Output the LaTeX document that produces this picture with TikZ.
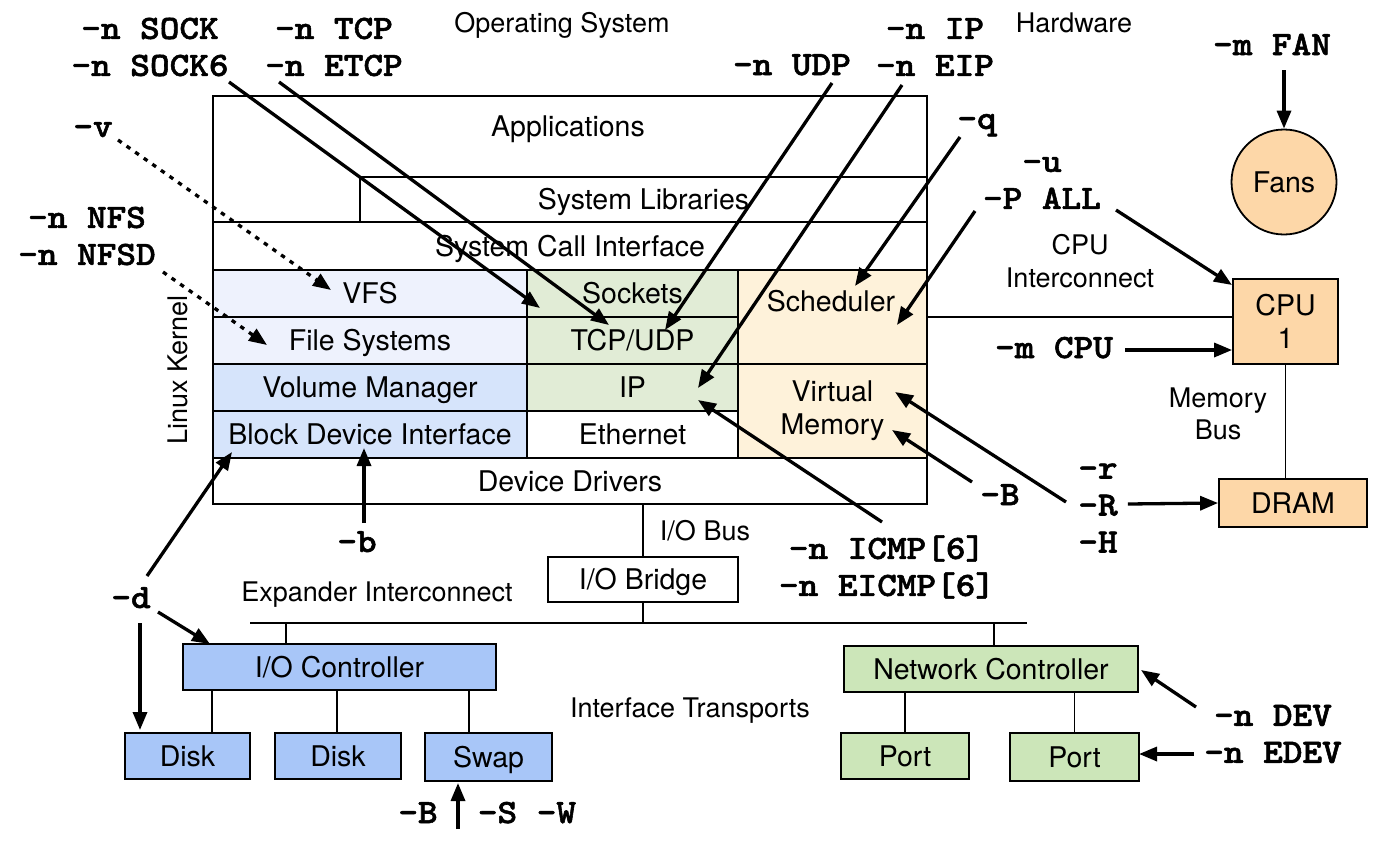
\documentclass[tikz,border=0pt]{standalone}
\usepackage{fontspec}
\setmainfont{TeX Gyre Heros}
\newfontfamily\codefont[Extension=.otf, FakeStretch=1.1, FakeBold=1.6]{lmmonolt10-bold}
\usepackage{xcolor}
\usetikzlibrary{arrows.meta, positioning}

\definecolor{fsblue}{HTML}{EEF2FD}
\definecolor{blkblue}{HTML}{D6E4FB}
\definecolor{netgreen}{HTML}{E1ECD6}
\definecolor{cpupeach}{HTML}{FEF2DA}
\definecolor{iofill}{HTML}{A8C6F8}
\definecolor{nicfill}{HTML}{CCE6B9}
\definecolor{hwfill}{HTML}{FDD7A8}

\begin{document}
\begin{tikzpicture}[x=1pt, y=-1pt,
    box/.style={draw, line width=1.8pt, inner sep=0pt, align=center,
                font=\fontsize{28.5}{33}\selectfont},
    one/.style={text height=20.5pt, text depth=0pt},
    lbl/.style={inner sep=0pt, align=center, font=\fontsize{27}{32.5}\selectfont},
    opt/.style={inner sep=0pt, align=center,
                font={\codefont\fontsize{34}{37}\selectfont}},
    wire/.style={line width=1.4pt},
    probe/.style={line width=3.3pt, -{Triangle[length=18pt, width=14pt]}},
    dotprobe/.style={probe, dash pattern=on 4.5pt off 6pt}]

    % --- CANVAS ---
    \path[fill=white, use as bounding box] (0,0) rectangle (1395,855);

    % --- HEADINGS ---
    \node[lbl, text height=19.5pt, text depth=0pt] (ostitle) at (562,23) {Operating System};
    \node[lbl, text height=19.5pt, text depth=0pt] (hwtitle) at (1074,23) {Hardware};
    \node[lbl, text height=19.5pt, text depth=0pt, rotate=90] (kernel) at (178,370) {Linux Kernel};

    % --- OPERATING SYSTEM STACK ---
    \node[box, minimum width=714pt, minimum height=408pt] (os) at (570,300) {};
    \node[box, one, draw=none] (apps) at (568,126) {Applications};
    \node[box, one, minimum width=567pt, minimum height=45pt] (syslib) at (643.5,199.5) {System Libraries};
    \node[box, one, minimum width=714pt, minimum height=48pt] (syscall) at (570,246) {System Call Interface};

    % left column: storage path
    \node[box, one, fill=fsblue, minimum width=314pt, minimum height=47pt] (vfs) at (370,293.5) {VFS};
    \node[box, one, fill=fsblue, minimum width=314pt, minimum height=47pt] (fs) at (370,340.5) {File Systems};
    \node[box, one, fill=blkblue, minimum width=314pt, minimum height=47pt] (volmgr) at (370,387.5) {Volume Manager};
    \node[box, one, fill=blkblue, minimum width=314pt, minimum height=47pt] (bdi) at (370,434.5) {Block Device Interface};

    % middle column: network path
    \node[box, one, fill=netgreen, minimum width=211pt, minimum height=47pt] (sockets) at (632.5,293.5) {Sockets};
    \node[box, one, fill=netgreen, minimum width=211pt, minimum height=47pt] (tcpudp) at (632.5,340.5) {TCP/UDP};
    \node[box, one, fill=netgreen, minimum width=211pt, minimum height=47pt] (ip) at (632.5,387.5) {IP};
    \node[box, one, minimum width=211pt, minimum height=47pt] (ether) at (632.5,434.5) {Ethernet};

    % right column: cpu and memory
    \node[box, fill=cpupeach, minimum width=189pt, minimum height=94pt] (sched) at (832.5,317) {};
    \node[box, one, draw=none] (schedtxt) at (831,301) {Scheduler};
    \node[box, fill=cpupeach, minimum width=189pt, minimum height=94pt] (vm) at (832.5,411) {Virtual\\Memory};

    \node[box, one, minimum width=714pt, minimum height=46pt] (devdrv) at (570,481) {Device Drivers};

    % --- I/O SUBSYSTEM ---
    \node[box, one, minimum width=190pt, minimum height=45pt] (iobridge) at (643,579.5) {I/O Bridge};
    \node[lbl, one] (iobus) at (705,530) {I/O Bus};
    \node[lbl, one] (expander) at (377,591) {Expander Interconnect};
    \node[lbl, one] (transports) at (690,707) {Interface Transports};

    \node[box, one, fill=iofill, minimum width=313pt, minimum height=46pt] (ioctl) at (339.5,667) {I/O Controller};
    \node[box, one, fill=iofill, minimum width=125pt, minimum height=46pt] (disk1) at (187.5,756) {Disk};
    \node[box, one, fill=iofill, minimum width=126pt, minimum height=46pt] (disk2) at (338,756) {Disk};
    \node[box, one, fill=iofill, minimum width=127pt, minimum height=48pt] (swap) at (488.5,757) {Swap};

    \node[box, one, fill=nicfill, minimum width=294pt, minimum height=46pt] (nic) at (991,669) {Network Controller};
    \node[box, one, fill=nicfill, minimum width=128pt, minimum height=46pt] (port1) at (905,756) {Port};
    \node[box, one, fill=nicfill, minimum width=129pt, minimum height=48pt] (port2) at (1074.5,757) {Port};

    % --- HARDWARE ---
    \node[box, fill=hwfill, minimum width=105pt, minimum height=85pt] (cpu) at (1285.5,321.5) {CPU\\1};
    \node[box, one, fill=hwfill, minimum width=148pt, minimum height=48pt] (dram) at (1293,503) {DRAM};
    \node[box, one, circle, fill=hwfill, minimum size=105pt] (fans) at (1284,182) {Fans};
    \node[lbl] (cpuic) at (1080,261) {CPU\\Interconnect};
    \node[lbl] (membus) at (1218,414) {Memory\\Bus};

    % --- BUSES ---
    \coordinate (busL) at (250,623);
    \coordinate (busR) at (1027,623);
    \draw[wire, line width=2pt] (busL) -- (busR);
    \draw[wire] (iobridge.north) -- (iobridge.north |- os.south);
    \draw[wire] (iobridge.south) -- (iobridge.south |- busL);
    \draw[wire] (ioctl.north -| 286,0) -- (busL -| 286,0);
    \draw[wire] (nic.north -| 994,0) -- (busL -| 994,0);
    \foreach \x/\d in {212/disk1, 337/disk2, 469/swap}
        \draw[wire] (ioctl.south -| \x,0) -- (\d.north -| \x,0);
    \draw[wire] (port1.north |- nic.south) -- (port1.north);
    \draw[wire] (port2.north |- nic.south) -- (port2.north);
    \draw[wire] (sched.east) -- (sched.east -| cpu.west);
    \draw[wire] (cpu.south) -- (cpu.south |- dram.north);

    % --- TOOL OPTIONS ---
    \node[opt] (sock) at (150,47) {-n SOCK\\-n SOCK6};
    \node[opt] (tcp) at (334,47) {-n TCP\\-n ETCP};
    \node[opt, anchor=base] (udp) at (792,75) {-n UDP};
    \node[opt] (ipopt) at (935,47) {-n IP\\-n EIP};
    \node[opt, anchor=base] (vopt) at (93,137) {-v};
    \node[opt] (nfs) at (87,236) {-n NFS\\-n NFSD};
    \node[opt, anchor=base] (qopt) at (977,129) {-q};
    \node[opt] (uopt) at (1042,183) {-u\\-P ALL};
    \node[opt, anchor=base] (fanopt) at (1272,55) {-m FAN};
    \node[opt, anchor=base] (cpuopt) at (1054,358) {-m CPU};
    \node[opt, anchor=base] (vmopt) at (1000,505) {-B};
    \node[opt] (memopt) at (1098,508) {-r\\-R\\-H};
    \node[opt] (icmp) at (887,567) {-n ICMP[6]\\-n EICMP[6]};
    \node[opt, anchor=base] (bopt) at (357,552) {-b};
    \node[opt, anchor=base] (dopt) at (131,608) {-d};
    \node[opt, anchor=base] (swapB) at (418,823) {-B};
    \node[opt, anchor=base] (swapSW) at (527,823) {-S -W};
    \node[opt] (devopt) at (1273,734) {-n DEV\\-n EDEV};

    % --- ARROW ENDS ---
    \coordinate (sockS) at (229,82);   \coordinate (sockT) at (540,308);
    \coordinate (tcpS) at (279,82);    \coordinate (tcpT) at (609,325);
    \coordinate (vS) at (118,140);     \coordinate (vT) at (331,290);
    \coordinate (nfsS) at (163,272);   \coordinate (nfsT) at (267,345);
    \coordinate (udpS) at (832,83);    \coordinate (udpT) at (665,330);
    \coordinate (ipS) at (902,85);     \coordinate (ipT) at (698,388);
    \coordinate (qS) at (960,137);     \coordinate (qT) at (855,286);
    \coordinate (pS) at (975,211);     \coordinate (pT) at (897,325);
    \coordinate (uS) at (1116,210);    \coordinate (uT) at (1232,285);
    \coordinate (vmBS) at (972,482);   \coordinate (vmBT) at (892,430);
    \coordinate (vmRS) at (1066,502);  \coordinate (vmRT) at (895,392);
    \coordinate (icmpS) at (882,522);  \coordinate (icmpT) at (698,400);
    \coordinate (bS) at (364,523);     \coordinate (bT) at (364,448);
    \coordinate (dbS) at (147,576);    \coordinate (dbT) at (232,452);
    \coordinate (dcS) at (158,612);    \coordinate (dcT) at (210,644);
    \coordinate (ddS) at (140,623);    \coordinate (ddT) at (140,730);
    \coordinate (swS) at (458,829);    \coordinate (swT) at (458,783);
    \coordinate (devS) at (1196,707);  \coordinate (devT) at (1141,670);
    \coordinate (edevS) at (1194,754); \coordinate (edevT) at (1139,754);

    % --- ARROWS ---
    \draw[probe] (sockS) -- (sockT);
    \draw[probe] (tcpS) -- (tcpT);
    \draw[dotprobe] (vS) -- (vT);
    \draw[dotprobe] (nfsS) -- (nfsT);
    \draw[probe] (udpS) -- (udpT);
    \draw[probe] (ipS) -- (ipT);
    \draw[probe] (qS) -- (qT);
    \draw[probe] (pS) -- (pT);
    \draw[probe] (uS) -- (uT);
    \draw[probe] ([xshift=12pt]cpuopt.east |- 0,350) -- (cpu.west |- 0,350);
    \draw[probe] (fans.north |- 0,70) -- (fans.north);
    \draw[probe] (vmBS) -- (vmBT);
    \draw[probe] (vmRS) -- (vmRT);
    \draw[probe] (icmpS) -- (icmpT);
    \draw[probe] (1134,504 -| memopt.east) ++(10,0) -- (dram.west);
    \draw[probe] (bS) -- (bT);
    \draw[probe] (dbS) -- (dbT);
    \draw[probe] (dcS) -- (dcT);
    \draw[probe] (ddS) -- (ddT);
    \draw[probe] (swS) -- (swT);
    \draw[probe] (devS) -- (devT);
    \draw[probe] (edevS) -- (edevT);

\end{tikzpicture}
\end{document}
